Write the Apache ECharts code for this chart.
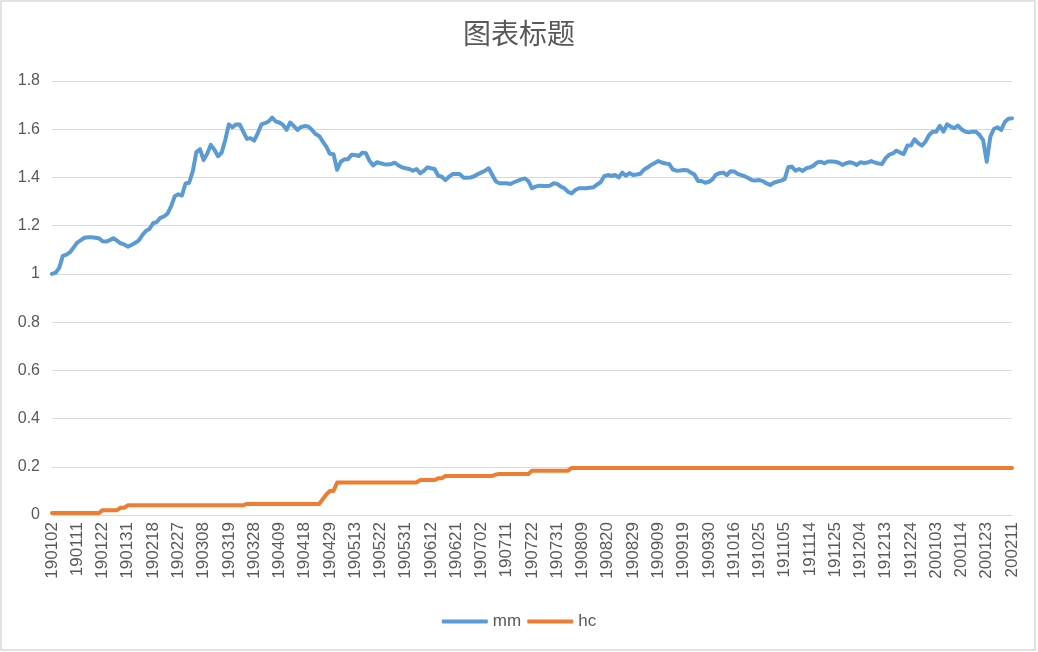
<!DOCTYPE html>
<html>
<head>
<meta charset="utf-8">
<script src="https://cdn.jsdelivr.net/npm/echarts@6/dist/echarts.min.js"></script>
<style>
html,body{margin:0;padding:0;background:#fff;}
#chart{width:1038px;height:652px;}
</style>
</head>
<body>
<div id="chart"></div>
<script>
const categories = [
'190102','190103','190104','190107','190108','190109','190110','190111','190114','190115','190116','190117','190118','190121','190122','190123','190124','190125','190128','190129','190130','190131',
'190201','190211','190212','190213','190214','190215','190218','190219','190220','190221','190222','190225','190226','190227','190228',
'190301','190304','190305','190306','190307','190308','190311','190312','190313','190314','190315','190318','190319','190320','190321','190322','190325','190326','190327','190328','190329',
'190401','190402','190403','190404','190408','190409','190410','190411','190412','190415','190416','190417','190418','190419','190422','190423','190424','190425','190426','190429','190430',
'190506','190507','190508','190509','190510','190513','190514','190515','190516','190517','190520','190521','190522','190523','190524','190527','190528','190529','190530','190531',
'190603','190604','190605','190606','190610','190611','190612','190613','190614','190617','190618','190619','190620','190621','190624','190625','190626','190627','190628',
'190701','190702','190703','190704','190705','190708','190709','190710','190711','190712','190715','190716','190717','190718','190719','190722','190723','190724','190725','190726','190729','190730','190731',
'190801','190802','190805','190806','190807','190808','190809','190812','190813','190814','190815','190816','190819','190820','190821','190822','190823','190826','190827','190828','190829','190830',
'190902','190903','190904','190905','190906','190909','190910','190911','190912','190916','190917','190918','190919','190920','190923','190924','190925','190926','190927','190930',
'191008','191009','191010','191011','191014','191015','191016','191017','191018','191021','191022','191023','191024','191025','191028','191029','191030','191031',
'191101','191104','191105','191106','191107','191108','191111','191112','191113','191114','191115','191118','191119','191120','191121','191122','191125','191126','191127','191128','191129',
'191202','191203','191204','191205','191206','191209','191210','191211','191212','191213','191216','191217','191218','191219','191220','191223','191224','191225','191226','191227','191230','191231',
'200102','200103','200106','200107','200108','200109','200110','200113','200114','200115','200116','200117','200120','200121','200122','200123',
'200203','200204','200205','200206','200207','200210','200211'
];

const mm = [
1.000,1.005,1.025,1.075,1.080,1.090,1.110,1.130,1.140,1.150,
1.152,1.152,1.150,1.148,1.135,1.134,1.140,1.148,1.138,1.127,
1.122,1.113,1.120,1.128,1.138,1.160,1.178,1.186,1.210,1.215,
1.232,1.238,1.250,1.280,1.322,1.330,1.325,1.375,1.378,1.425,
1.505,1.517,1.472,1.498,1.535,1.515,1.488,1.503,1.555,1.620,
1.608,1.620,1.620,1.590,1.560,1.563,1.553,1.583,1.620,1.625,
1.632,1.648,1.632,1.628,1.618,1.597,1.628,1.613,1.597,1.609,
1.613,1.611,1.598,1.580,1.572,1.550,1.528,1.498,1.496,1.432,
1.465,1.475,1.475,1.494,1.493,1.489,1.503,1.500,1.468,1.450,
1.463,1.459,1.455,1.454,1.456,1.461,1.450,1.442,1.438,1.435,
1.428,1.435,1.417,1.427,1.442,1.438,1.435,1.407,1.403,1.389,
1.403,1.414,1.414,1.414,1.399,1.399,1.400,1.405,1.414,1.421,
1.428,1.438,1.410,1.383,1.376,1.376,1.376,1.373,1.380,1.386,
1.392,1.396,1.385,1.355,1.362,1.366,1.365,1.365,1.366,1.376,
1.373,1.362,1.355,1.340,1.334,1.348,1.355,1.355,1.355,1.357,
1.359,1.370,1.380,1.405,1.410,1.406,1.410,1.400,1.420,1.407,
1.418,1.410,1.412,1.415,1.432,1.441,1.452,1.460,1.468,1.462,
1.458,1.456,1.433,1.428,1.429,1.431,1.430,1.420,1.412,1.385,
1.385,1.378,1.382,1.392,1.412,1.418,1.420,1.410,1.426,1.425,
1.415,1.410,1.404,1.397,1.388,1.387,1.389,1.385,1.375,1.369,
1.378,1.383,1.387,1.393,1.442,1.445,1.428,1.435,1.427,1.438,
1.442,1.449,1.462,1.465,1.459,1.466,1.466,1.465,1.461,1.452,
1.459,1.463,1.460,1.452,1.463,1.460,1.462,1.468,1.462,1.458,
1.456,1.480,1.495,1.500,1.511,1.503,1.497,1.532,1.532,1.558,
1.542,1.532,1.548,1.575,1.590,1.590,1.614,1.590,1.620,1.611,
1.604,1.615,1.600,1.590,1.587,1.590,1.590,1.576,1.555,1.465,
1.569,1.602,1.608,1.597,1.630,1.643,1.645
];

const hc = [
0.008,0.008,0.008,0.008,0.008,0.008,0.008,0.008,0.008,0.008,
0.008,0.008,0.008,0.008,0.020,0.020,0.020,0.020,0.020,0.030,
0.030,0.040,0.040,0.040,0.040,0.040,0.040,0.040,0.040,0.040,
0.040,0.040,0.040,0.040,0.040,0.040,0.040,0.040,0.040,0.040,
0.040,0.040,0.040,0.040,0.040,0.040,0.040,0.040,0.040,0.040,
0.040,0.040,0.040,0.040,0.046,0.046,0.046,0.046,0.046,0.046,
0.046,0.046,0.046,0.046,0.046,0.046,0.046,0.046,0.046,0.046,
0.046,0.046,0.046,0.046,0.046,0.065,0.085,0.100,0.100,0.135,
0.135,0.135,0.135,0.135,0.135,0.135,0.135,0.135,0.135,0.135,
0.135,0.135,0.135,0.135,0.135,0.135,0.135,0.135,0.135,0.135,
0.135,0.135,0.145,0.145,0.145,0.145,0.145,0.152,0.152,0.162,
0.162,0.162,0.162,0.162,0.162,0.162,0.162,0.162,0.162,0.162,
0.162,0.162,0.162,0.168,0.170,0.170,0.170,0.170,0.170,0.170,
0.170,0.170,0.170,0.184,0.184,0.184,0.184,0.184,0.184,0.184,
0.184,0.184,0.184,0.184,0.195,0.195,0.195,0.195,0.195,0.195,
0.195,0.195,0.195,0.195,0.195,0.195,0.195,0.195,0.195,0.195,
0.195,0.195,0.195,0.195,0.195,0.195,0.195,0.195,0.195,0.195,
0.195,0.195,0.195,0.195,0.195,0.195,0.195,0.195,0.195,0.195,
0.195,0.195,0.195,0.195,0.195,0.195,0.195,0.195,0.195,0.195,
0.195,0.195,0.195,0.195,0.195,0.195,0.195,0.195,0.195,0.195,
0.195,0.195,0.195,0.195,0.195,0.195,0.195,0.195,0.195,0.195,
0.195,0.195,0.195,0.195,0.195,0.195,0.195,0.195,0.195,0.195,
0.195,0.195,0.195,0.195,0.195,0.195,0.195,0.195,0.195,0.195,
0.195,0.195,0.195,0.195,0.195,0.195,0.195,0.195,0.195,0.195,
0.195,0.195,0.195,0.195,0.195,0.195,0.195,0.195,0.195,0.195,
0.195,0.195,0.195,0.195,0.195,0.195,0.195,0.195,0.195,0.195,
0.195,0.195,0.195,0.195,0.195,0.195,0.195
];

const seriesNames = ['mm', 'hc'];
const titleText = '图表标题';

const chart = echarts.init(document.getElementById('chart'), null, {renderer: 'canvas'});
const textColor = '#595959';
const gridColor = '#D9D9D9';
chart.setOption({
  animation: false,
  backgroundColor: '#ffffff',
  title: {
    text: titleText,
    left: 'center',
    top: 19,
    padding: 0,
    textStyle: {color: textColor, fontSize: 28, fontWeight: 'normal', fontFamily: '"Noto Sans CJK SC", sans-serif'}
  },
  legend: {
    bottom: 17,
    left: 'center',
    icon: 'roundRect',
    itemWidth: 46,
    itemHeight: 4,
    itemGap: 6,
    textStyle: {color: textColor, fontSize: 17, fontFamily: '"Liberation Sans", Arial, sans-serif'},
    data: seriesNames
  },
  graphic: [{
    type: 'rect',
    shape: {x: 1, y: 1, width: 1034, height: 649},
    style: {fill: 'none', stroke: gridColor, lineWidth: 1.5},
    silent: true
  }],
  grid: {left: 52, right: 26, top: 81, bottom: 137, containLabel: false},
  xAxis: {
    type: 'category',
    data: categories,
    boundaryGap: false,
    axisLine: {show: true, lineStyle: {color: gridColor, width: 1}},
    axisTick: {show: false},
    axisLabel: {
      interval: 6,
      rotate: 90,
      margin: 7,
      color: textColor,
      fontSize: 17,
      fontFamily: '"Liberation Sans", Arial, sans-serif'
    },
    splitLine: {show: false}
  },
  yAxis: {
    type: 'value',
    min: 0,
    max: 1.8,
    interval: 0.2,
    axisLine: {show: false},
    axisTick: {show: false},
    axisLabel: {
      margin: 12,
      color: textColor,
      fontSize: 16,
      fontFamily: '"Liberation Sans", Arial, sans-serif',
      formatter: function (v) { return String(Math.round(v * 10) / 10); }
    },
    splitLine: {lineStyle: {color: gridColor, width: 1}}
  },
  series: [
    {
      name: seriesNames[0], type: 'line', data: mm, symbol: 'none', smooth: false,
      itemStyle: {color: '#5B9BD5'},
      lineStyle: {color: '#5B9BD5', width: 4, cap: 'round', join: 'round'}
    },
    {
      name: seriesNames[1], type: 'line', data: hc, symbol: 'none', smooth: false,
      itemStyle: {color: '#ED7D31'},
      lineStyle: {color: '#ED7D31', width: 4, cap: 'round', join: 'round'}
    }
  ]
});
</script>
</body>
</html>
